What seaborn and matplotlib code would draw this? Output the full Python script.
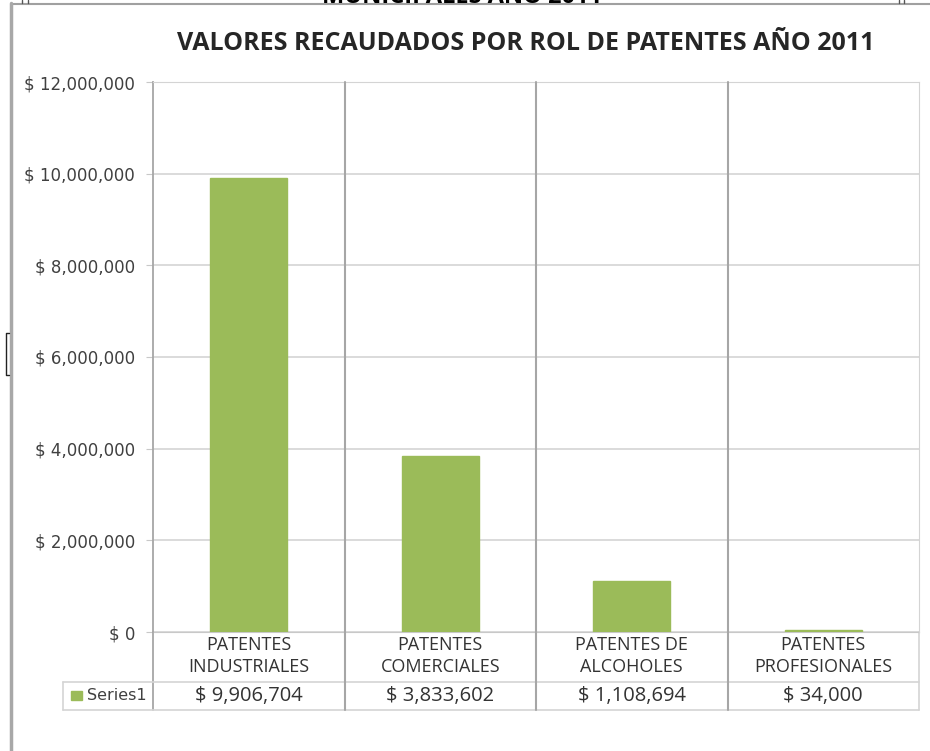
import matplotlib
matplotlib.use("Agg")
import matplotlib.pyplot as plt
import seaborn as sns
import pandas as pd
from matplotlib.ticker import FuncFormatter
from matplotlib.lines import Line2D
from matplotlib.patches import Rectangle
import matplotlib.transforms as mtransforms

# data
categories = ["PATENTES\nINDUSTRIALES", "PATENTES\nCOMERCIALES",
              "PATENTES DE\nALCOHOLES", "PATENTES\nPROFESIONALES"]
values = [9906704, 3833602, 1108694, 34000]
value_labels = ["$ 9,906,704", "$ 3,833,602", "$ 1,108,694", "$ 34,000"]
series_name = "Series1"
title = "VALORES RECAUDADOS POR ROL DE PATENTES AÑO 2011"
header_cut = "MUNICIPALES AÑO 2011"
yticks = [0, 2000000, 4000000, 6000000, 8000000, 10000000, 12000000]

GREEN = "#9BBB59"
W, H = 930, 751

sns.set_style("white")
plt.rcParams['font.family'] = ['DejaVu Sans']

df = pd.DataFrame({'cat': categories, 'val': values})

fig = plt.figure(figsize=(W / 100, H / 100), dpi=100)
# plot area in pixels: x 153..919, y 82..632
ax = fig.add_axes([153 / W, 1 - 632 / H, (919 - 153) / W, (632 - 82) / H])

sns.barplot(data=df, x='cat', y='val', color=GREEN, width=0.4,
            saturation=1, edgecolor=GREEN, linewidth=1, ax=ax, zorder=3)

ax.set_xlim(-0.5, 3.5)
ax.set_ylim(0, 12000000)
ax.set_yticks(yticks)
ax.yaxis.set_major_formatter(FuncFormatter(lambda v, p: f"$ {v:,.0f}"))
ax.tick_params(axis='y', length=5, color='#c8c8c8', pad=8,
               labelsize=12, labelcolor='#404040', left=True)
ax.set_xticks([])
ax.set_xlabel("")
ax.set_ylabel("")
ax.grid(axis='y', color='#d4d4d4', linewidth=1.2, zorder=0)
for s in ['top', 'right']:
    ax.spines[s].set_color('#d4d4d4')
ax.spines['left'].set_color('#a6a6a6')
ax.spines['left'].set_linewidth(1.3)
ax.spines['bottom'].set_color('#c8c8c8')
ax.spines['bottom'].set_zorder(2)

# data table below the plot
blend = mtransforms.blended_transform_factory(ax.transData, ax.transAxes)
ppu = (919 - 153) / 4.0
x_tab = -0.5 - (153 - 63) / ppu
y_row1 = -(682 - 632) / 550
y_row2 = -(710 - 632) / 550

for b in [0.5, 1.5, 2.5]:
    ax.add_line(Line2D([b, b], [y_row2, 1], transform=blend, color='#a6a6a6',
                       linewidth=1.5, clip_on=False, zorder=4))
ax.add_line(Line2D([-0.5, -0.5], [y_row2, 0], transform=blend, color='#a6a6a6',
                   linewidth=1.3, clip_on=False))
ax.add_line(Line2D([3.5, 3.5], [y_row2, 0], transform=blend, color='#d4d4d4',
                   linewidth=1.2, clip_on=False))
for yy in [y_row1, y_row2]:
    ax.add_line(Line2D([x_tab, 3.5], [yy, yy], transform=blend, color='#d4d4d4',
                       linewidth=1.2, clip_on=False))
ax.add_line(Line2D([x_tab, x_tab], [y_row2, y_row1], transform=blend,
                   color='#d4d4d4', linewidth=1.2, clip_on=False))

for i, (c, v) in enumerate(zip(categories, value_labels)):
    ax.text(i, y_row1 / 2 + 0.002, c, transform=blend, ha='center', va='center',
            fontsize=13, color='#333333', family=['Open Sans'],
            linespacing=1.25, clip_on=False)
    ax.text(i, (y_row1 + y_row2) / 2, v, transform=blend, ha='center',
            va='center', fontsize=14.5, color='#333333', family=['Open Sans'],
            clip_on=False)

# legend key for the table row
fig.patches.append(Rectangle((71 / W, 1 - 700 / H), 11 / W, 9 / H,
                             transform=fig.transFigure, color=GREEN))
fig.text(87 / W, 1 - 696 / H, series_name, ha='left', va='center',
         fontsize=11.5, color='#404040')

# title
fig.text(526 / W, 1 - 43 / H, title, ha='center', va='center',
         fontsize=18, fontweight='bold', color='#262626', family=['Open Sans'])

# heading of the page above the chart, cut off by the chart frame
fig.text(462 / W, 1 - 3 / H, header_cut, ha='center', va='baseline',
         fontsize=17, fontweight='bold', color='black', family=['Open Sans'])

# outer frame of the embedded chart
fig.lines.append(Line2D([11 / W, 1], [1 - 3.5 / H, 1 - 3.5 / H],
                        transform=fig.transFigure, color='#a0a0a0', linewidth=1.5))
fig.lines.append(Line2D([11 / W, 11 / W], [0, 1 - 3 / H],
                        transform=fig.transFigure, color='#a8a8a8', linewidth=2.5))
for xx in [22, 28, 899, 904]:
    fig.lines.append(Line2D([xx / W, xx / W], [1 - 3 / H, 1],
                            transform=fig.transFigure, color='#555555', linewidth=1))
# small bracket mark at the left edge
fig.lines.append(Line2D([9 / W, 6 / W, 6 / W, 9 / W],
                        [1 - 333 / H, 1 - 333 / H, 1 - 375 / H, 1 - 375 / H],
                        transform=fig.transFigure, color='#222222', linewidth=1))

fig.savefig("out.png", dpi=100)
